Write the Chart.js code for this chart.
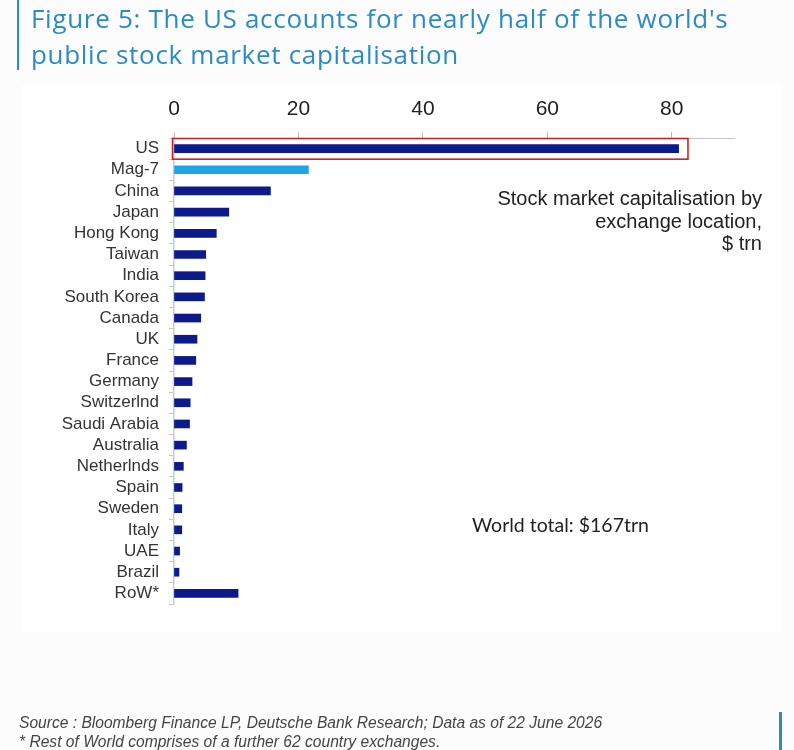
<!DOCTYPE html>
<html>
<head>
<meta charset="utf-8">
<script src="https://cdn.jsdelivr.net/npm/chart.js@4.4.1/dist/chart.umd.min.js"></script>
<style>
  html, body { margin: 0; padding: 0; }
  body { width: 794px; height: 750px; position: relative; overflow: hidden; background: #fcfcfc; font-family: "Liberation Sans", Arial, sans-serif; }
  #panel { position: absolute; left: 22px; top: 85px; width: 759px; height: 547px; background: #fff; }
  #chartCanvas { position: absolute; left: 0; top: 0; }
  .txt { position: absolute; white-space: nowrap; }
  #title { left: 31px; top: 0; font-family: "Open Sans", sans-serif; font-size: 26px; letter-spacing: 0.7px; line-height: 36px; color: #2a8cc3; }
  #titleBar { position: absolute; left: 17px; top: 0; width: 2px; height: 70px; background: #2a8cc3; }
  #note { right: 32px; top: 187px; text-align: right; font-size: 20px; line-height: 22.5px; color: #222; }
  #world { left: 472px; top: 513px; font-family: Lato, sans-serif; font-size: 19.5px; line-height: 24px; color: #222; }
  #footer { left: 19px; top: 713px; font-size: 15.6px; line-height: 19px; font-style: italic; color: #444; }
  #footBar { position: absolute; left: 779px; top: 712px; width: 3px; height: 38px; background: #2a8cc3; }
</style>
</head>
<body>
<div id="panel"></div>
<canvas id="chartCanvas" width="794" height="750"></canvas>
<div id="titleBar"></div>
<div id="title" class="txt">Figure 5: The US accounts for nearly half of the world's<br>public stock market capitalisation</div>
<div id="note" class="txt">Stock market capitalisation by<br>exchange location,<br>$ trn</div>
<div id="world" class="txt">World total: $167trn</div>
<div id="footer" class="txt">Source : Bloomberg Finance LP, Deutsche Bank Research; Data as of 22 June 2026<br>* Rest of World comprises of a further 62 country exchanges.</div>
<div id="footBar"></div>
<script>
// 数据
const categories = ['US', 'Mag-7', 'China', 'Japan', 'Hong Kong', 'Taiwan', 'India', 'South Korea',
    'Canada', 'UK', 'France', 'Germany', 'Switzerlnd', 'Saudi Arabia', 'Australia', 'Netherlnds',
    'Spain', 'Sweden', 'Italy', 'UAE', 'Brazil', 'RoW*'];
const marketCap = [81.1, 21.6, 15.5, 8.8, 6.8, 5.1, 5.0, 4.9, 4.3, 3.7, 3.5, 2.9, 2.6, 2.5, 2.0, 1.5,
    1.3, 1.25, 1.25, 0.9, 0.8, 10.3];
const xTickValues = [0, 20, 40, 60, 80];
const xAxisMax = 90;
const lightCategory = 'Mag-7';
const boxedCategory = 'US';
const boxEndValue = 82.6;

const NAVY = '#0c1a8c';
const LIGHT_BLUE = '#1ea6e4';

// 红框标注
const boxPlugin = {
    id: 'boxPlugin',
    afterDatasetsDraw(chart) {
        const xs = chart.scales.x;
        const ys = chart.scales.y;
        const i = categories.indexOf(boxedCategory);
        const half = Math.abs(ys.getPixelForValue(1) - ys.getPixelForValue(0)) / 2;
        const c = ys.getPixelForValue(i);
        const x0 = xs.getPixelForValue(0) - 1.5;
        const x1 = xs.getPixelForValue(boxEndValue);
        const ctx = chart.ctx;
        ctx.save();
        ctx.strokeStyle = '#c3272b';
        ctx.lineWidth = 1.6;
        ctx.strokeRect(x0, c - half + 0.5, x1 - x0, 2 * half - 0.5);
        ctx.restore();
    }
};

window.addEventListener('load', function () {
    if (typeof Chart === 'undefined') {
        console.error('Chart.js未加载！');
        return;
    }
    new Chart(document.getElementById('chartCanvas'), {
        type: 'bar',
        data: {
            labels: categories,
            datasets: [{
                data: marketCap,
                backgroundColor: categories.map(c => c === lightCategory ? LIGHT_BLUE : NAVY),
                barThickness: 8,
                borderWidth: 0
            }]
        },
        options: {
            indexAxis: 'y',
            responsive: false,
            animation: false,
            layout: { padding: { top: 80, left: 0, right: 60, bottom: 146 } },
            plugins: {
                legend: { display: false },
                tooltip: { enabled: false }
            },
            scales: {
                x: {
                    position: 'top',
                    min: 0,
                    max: xAxisMax,
                    afterBuildTicks(scale) {
                        scale.ticks = xTickValues.map(v => ({ value: v }));
                    },
                    afterFit(scale) { scale.height = 58; },
                    grid: { drawOnChartArea: false, tickLength: 6, color: '#bdbdbd' },
                    border: { color: '#c4c4c4', width: 1 },
                    ticks: {
                        padding: 10,
                        color: '#222',
                        font: { family: 'Liberation Sans', size: 21 }
                    }
                },
                y: {
                    afterFit(scale) { scale.width = 174; },
                    grid: { drawOnChartArea: false, tickLength: 5, color: '#c8c8c8' },
                    border: { color: '#c9cbd6', width: 1.5 },
                    ticks: {
                        autoSkip: false,
                        padding: 10,
                        color: '#333',
                        font: { family: 'Liberation Sans', size: 17 }
                    }
                }
            }
        },
        plugins: [boxPlugin]
    });
});
</script>
</body>
</html>
